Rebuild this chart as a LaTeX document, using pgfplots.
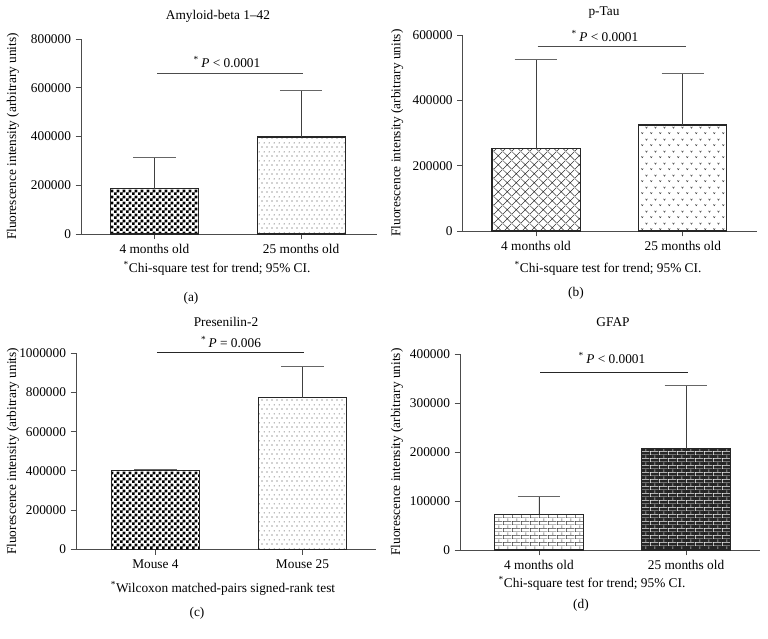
\documentclass[border=0pt]{standalone}
\usepackage{fontspec}
\setmainfont{Liberation Serif}
\usepackage{pgfplots}
\pgfplotsset{compat=1.18}
\usetikzlibrary{patterns}

% small patterns, sized like the scanned figure
\pgfdeclarepatternformonly{chk}{\pgfpointorigin}{\pgfqpoint{4.5pt}{4.5pt}}{\pgfqpoint{4.5pt}{4.5pt}}{%
  \pgfpathrectangle{\pgfpointorigin}{\pgfqpoint{2.3pt}{2.3pt}}%
  \pgfpathrectangle{\pgfqpoint{2.25pt}{2.25pt}}{\pgfqpoint{2.3pt}{2.3pt}}%
  \pgfusepath{fill}}
\pgfdeclarepatternformonly{sdots}{\pgfpointorigin}{\pgfqpoint{3.5pt}{6.4pt}}{\pgfqpoint{3.5pt}{6.4pt}}{%
  \pgfpathcircle{\pgfqpoint{0.8pt}{0.8pt}}{0.42pt}%
  \pgfpathcircle{\pgfqpoint{2.55pt}{4pt}}{0.42pt}%
  \pgfusepath{fill}}
\pgfdeclarepatternformonly{xhatch}{\pgfpointorigin}{\pgfqpoint{6.5pt}{6.5pt}}{\pgfqpoint{6.5pt}{6.5pt}}{%
  \pgfsetlinewidth{0.4pt}%
  \pgfpathmoveto{\pgfpointorigin}\pgfpathlineto{\pgfqpoint{6.5pt}{6.5pt}}%
  \pgfpathmoveto{\pgfqpoint{0pt}{6.5pt}}\pgfpathlineto{\pgfqpoint{6.5pt}{0pt}}%
  \pgfusepath{stroke}}
\pgfdeclarepatternformonly{vees}{\pgfpointorigin}{\pgfqpoint{6.5pt}{9pt}}{\pgfqpoint{6.5pt}{9pt}}{%
  \pgfsetlinewidth{0.4pt}%
  \pgfpathmoveto{\pgfqpoint{0.3pt}{2.1pt}}\pgfpathlineto{\pgfqpoint{1pt}{1pt}}\pgfpathlineto{\pgfqpoint{1.7pt}{2.1pt}}%
  \pgfpathmoveto{\pgfqpoint{3.55pt}{6.6pt}}\pgfpathlineto{\pgfqpoint{4.25pt}{5.5pt}}\pgfpathlineto{\pgfqpoint{4.95pt}{6.6pt}}%
  \pgfusepath{stroke}}
\pgfdeclarepatternformonly{brk}{\pgfpointorigin}{\pgfqpoint{6.5pt}{5.4pt}}{\pgfqpoint{6.5pt}{5.4pt}}{%
  \pgfsetlinewidth{0.4pt}%
  \pgfpathmoveto{\pgfqpoint{0pt}{0.2pt}}\pgfpathlineto{\pgfqpoint{6.5pt}{0.2pt}}%
  \pgfpathmoveto{\pgfqpoint{0pt}{2.9pt}}\pgfpathlineto{\pgfqpoint{6.5pt}{2.9pt}}%
  \pgfpathmoveto{\pgfqpoint{0.5pt}{0.2pt}}\pgfpathlineto{\pgfqpoint{0.5pt}{2.9pt}}%
  \pgfpathmoveto{\pgfqpoint{3.75pt}{2.9pt}}\pgfpathlineto{\pgfqpoint{3.75pt}{5.4pt}}%
  \pgfusepath{stroke}}

\pgfplotsset{
  panel/.style={
    scale only axis, clip=false,
    axis lines*=left, axis line style={black!70, line width=0.7pt},
    ybar, bar width=0.6, bar shift=0pt,
    xtick={1,2}, tick align=outside, major tick length=4pt,
    tick style={black!70, line width=0.7pt},
    ymin=0, scaled y ticks=false,
    yticklabel style={/pgf/number format/fixed, /pgf/number format/1000 sep={},
      /pgf/number format/assume math mode=true},
    ylabel={Fluorescence intensity (arbitrary units)},
    ylabel style={at={(axis description cs:#1,0.5)}, anchor=center},
    every axis plot/.append style={draw=black!85, line width=0.8pt},
    error bars/y dir=plus, error bars/y explicit,
    error bars/error mark=|,
    error bars/error bar style={black!75, line width=0.7pt},
    error bars/error mark options={black!60, mark size=16pt, line width=0.7pt},
  },
}

\begin{document}
\begin{tikzpicture}
\useasboundingbox (0,0) rectangle (576pt,-479.25pt);

% (a) Amyloid-beta 1-42
\begin{axis}[panel=-0.23, at={(60.75pt,-175.5pt)}, anchor=south west,
  width=222pt, height=146.25pt, xmin=0.5, xmax=2.517,
  ymax=800000, ytick={0,200000,400000,600000,800000},
  xticklabels={4 months old, 25 months old}]
\addplot[pattern=chk, pattern color=black] coordinates {(1,185000) +- (0,127000)};
\addplot[pattern=sdots, pattern color=black!75] coordinates {(2,398000) +- (0,191000)};
\draw[black!70, line width=0.7pt] (axis cs:1.02,657600) -- (axis cs:2.01,657600);
\end{axis}

% (b) p-Tau
\begin{axis}[panel=-0.223, at={(347pt,-173.25pt)}, anchor=south west,
  width=220.5pt, height=147pt, xmin=0.5, xmax=2.503,
  ymax=600000, ytick={0,200000,400000,600000},
  xticklabels={4 months old, 25 months old}]
\addplot[pattern=xhatch, pattern color=black!80] coordinates {(1,252000) +- (0,274000)};
\addplot[pattern=vees, pattern color=black!75] coordinates {(2,324500) +- (0,158000)};
\draw[black!70, line width=0.7pt] (axis cs:1.01,565300) -- (axis cs:2.02,565300);
\end{axis}

% (c) Presenilin-2
\begin{axis}[panel=-0.21, at={(57pt,-412pt)}, anchor=south west,
  width=225pt, height=147pt, xmin=0.46, xmax=2.5,
  ymax=1000000, ytick={0,200000,400000,600000,800000,1000000},
  xticklabels={Mouse 4, Mouse 25}]
\addplot[pattern=chk, pattern color=black] coordinates {(1,403000) +- (0,5000)};
\addplot[pattern=sdots, pattern color=black!75] coordinates {(2,773500) +- (0,158000)};
\draw[black!85, line width=0.7pt] (axis cs:1.01,1005000) -- (axis cs:2.01,1005000);
\end{axis}

% (d) GFAP
\begin{axis}[panel=-0.21, at={(345pt,-412.5pt)}, anchor=south west,
  width=225pt, height=147pt, xmin=0.463, xmax=2.503,
  ymax=400000, ytick={0,100000,200000,300000,400000},
  xticklabels={4 months old, 25 months old}]
\addplot[pattern=brk, pattern color=black!80] coordinates {(1,73000) +- (0,37000)};
\addplot[fill=black!85, postaction={pattern=brk, pattern color=white}] coordinates {(2,206700) +- (0,129400)};
\draw[black!85, line width=0.7pt] (axis cs:1.01,362600) -- (axis cs:2.01,362600);
\end{axis}

\begin{scope}[x=0.75pt, y=-0.75pt]
\node at (218,16) {Amyloid-beta 1--42};
\node at (227,62) {\textsuperscript{*}\,\textit{P} < 0.0001};
\node at (217,268) {\textsuperscript{*}Chi-square test for trend; 95\% CI.};
\node at (191,298) {(a)};

\node at (604,13) {p-Tau};
\node at (605,36) {\textsuperscript{*}\,\textit{P} < 0.0001};
\node at (608,268) {\textsuperscript{*}Chi-square test for trend; 95\% CI.};
\node at (576,293) {(b)};

\node at (226,322) {Presenilin-2};
\node at (231,342) {\textsuperscript{*}\,\textit{P} = 0.006};
\node at (223,588) {\textsuperscript{*}Wilcoxon matched-pairs signed-rank test};
\node at (197,613) {(c)};

\node at (613,322) {GFAP};
\node at (612,358) {\textsuperscript{*}\,\textit{P} < 0.0001};
\node at (592,583) {\textsuperscript{*}Chi-square test for trend; 95\% CI.};
\node at (581,605) {(d)};
\end{scope}
\end{tikzpicture}
\end{document}
